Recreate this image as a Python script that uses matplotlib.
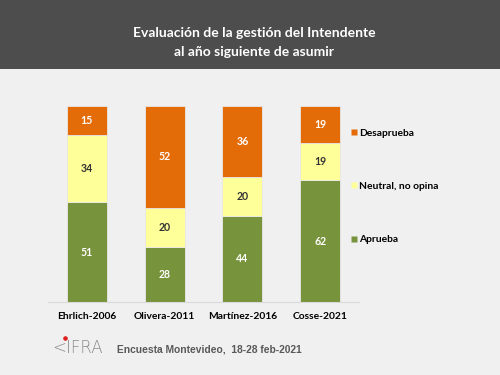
import matplotlib.pyplot as plt
from matplotlib.patches import Rectangle
from matplotlib.lines import Line2D

plt.rcParams['font.family'] = ['Lato', 'DejaVu Sans']

categories = ['Ehrlich-2006', 'Olivera-2011', 'Martínez-2016', 'Cosse-2021']
aprueba = [51, 28, 44, 62]
neutral = [34, 20, 20, 19]
desaprueba = [15, 52, 36, 19]
series_names = ['Aprueba', 'Neutral, no opina', 'Desaprueba']
colors = ['#77933C', '#FFFF99', '#E36C09']
text_colors = ['white', '#333333', 'white']

fig = plt.figure(figsize=(5, 3.75), dpi=100)
fig.patch.set_facecolor('#F0F0F0')

# dark header band
fig.patches.append(Rectangle((0, 0.816), 1, 0.184, transform=fig.transFigure,
                             facecolor='#4D4D4D', edgecolor='none', zorder=0))
fig.text(0.508, 0.912, 'Evaluación de la gestión del Intendente',
         color='white', fontsize=10, fontweight='bold', ha='center', va='center')
fig.text(0.508, 0.861, 'al año siguiente de asumir',
         color='white', fontsize=10, fontweight='bold', ha='center', va='center')

ax = fig.add_axes([0.096, 0.1947, 0.622, 0.5227])
ax.set_facecolor('#F0F0F0')

x = list(range(len(categories)))
bottom = [0] * len(categories)
for vals, name, c, tc in zip([aprueba, neutral, desaprueba], series_names, colors, text_colors):
    ax.bar(x, vals, bottom=bottom, width=0.515, color=c,
           edgecolor='#E8E8E8', linewidth=0.6, label=name)
    for xi, v, b in zip(x, vals, bottom):
        ax.text(xi, b + v / 2, str(v), ha='center', va='center',
                color=tc, fontsize=7.6, fontweight='bold')
    bottom = [b + v for b, v in zip(bottom, vals)]

ax.set_xlim(-0.5, 3.5)
ax.set_ylim(0, 100)
ax.set_yticks([])
ax.set_xticks(x)
ax.set_xticklabels(categories, fontsize=7.4, fontweight='bold')
ax.tick_params(axis='x', length=0, pad=7)
for s in ['top', 'right', 'left']:
    ax.spines[s].set_visible(False)
ax.spines['bottom'].set_color('#D9D9D9')
ax.spines['bottom'].set_linewidth(0.8)

leg_handles = [Line2D([], [], marker='s', linestyle='none', markersize=5,
                      markerfacecolor=c, markeredgecolor='none') for c in colors]
fig.legend(leg_handles[::-1], series_names[::-1], loc='upper left',
           bbox_to_anchor=(0.683, 0.682), frameon=False,
           handlelength=0.6, handletextpad=0.25, labelspacing=4.3,
           prop={'size': 7.4, 'weight': 'bold'})

# footer
fig.text(0.104, 0.072, '<IFRA', color='#8C8C8C', fontsize=12,
         fontfamily='DejaVu Sans', fontweight='light', va='center', ha='left')
fig.lines.append(Line2D([0.13], [0.1], marker='o', markersize=2.3,
                        color='#E02020', transform=fig.transFigure))
fig.text(0.234, 0.069, 'Encuesta Montevideo,  18-28 feb-2021', color='#595959',
         fontsize=7.4, fontfamily=['Liberation Sans', 'DejaVu Sans'],
         fontweight='bold', va='center', ha='left')

plt.savefig('out.png', dpi=100, facecolor=fig.get_facecolor())
